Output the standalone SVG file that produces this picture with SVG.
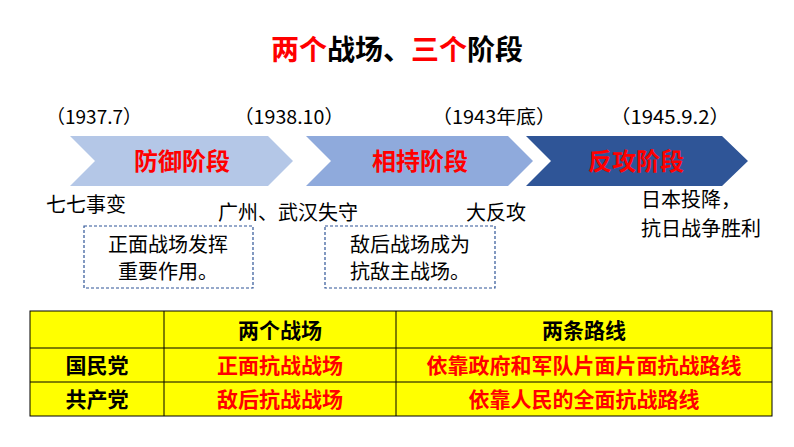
<svg xmlns="http://www.w3.org/2000/svg" width="794" height="447" viewBox="0 0 794 447">
<style>
text{font-family:"Noto Sans CJK SC","Liberation Sans",sans-serif}
.d{font-size:19px;fill:#000}
.s{font-size:24px;font-weight:bold;fill:#ff0000;text-anchor:middle}
.n{font-size:20px;fill:#000}
.box{fill:none;stroke:#2f5597;stroke-width:1.2;stroke-dasharray:3,2}
.t{font-size:21px;font-weight:bold;text-anchor:middle}
.r{fill:#ff0000}
</style>
<rect width="794" height="447" fill="#fff"/>
<text x="397" y="60" font-size="28" font-weight="bold" text-anchor="middle"><tspan fill="#ff0000">两个</tspan><tspan fill="#000">战场、</tspan><tspan fill="#ff0000">三个</tspan><tspan fill="#000">阶段</tspan></text>
<g id="dates">
<text class="d" x="46" y="124" textLength="96" lengthAdjust="spacingAndGlyphs">（1937.7）</text>
<text class="d" x="234" y="124" textLength="110" lengthAdjust="spacingAndGlyphs">（1938.10）</text>
<text class="d" x="432" y="124" textLength="124" lengthAdjust="spacingAndGlyphs">（1943年底）</text>
<text class="d" x="610" y="124" textLength="120" lengthAdjust="spacingAndGlyphs">（1945.9.2）</text>
</g>
<g id="stage1"><polygon points="70,136 268,136 293,161 268,186 70,186 95,161" fill="#b4c7e7"/><text class="s" x="182" y="170">防御阶段</text></g>
<g id="stage2"><polygon points="306,136 508,136 533,161 508,186 306,186 331,161" fill="#8faadc"/><text class="s" x="420" y="170">相持阶段</text></g>
<g id="stage3"><polygon points="526,136 722,136 748,161 722,186 526,186 551,161" fill="#2f5597"/><text class="s" x="636" y="170">反攻阶段</text></g>
<g id="events">
<text class="n" x="46" y="212">七七事变</text>
<text class="n" x="218" y="220">广州、武汉失守</text>
<text class="n" x="466" y="220">大反攻</text>
<text class="n" x="641" y="207">日本投降，</text>
<text class="n" x="641" y="236">抗日战争胜利</text>
</g>
<g id="note1"><rect class="box" x="84" y="226" width="169" height="62"/><text class="n" x="168" y="252" text-anchor="middle">正面战场发挥</text><text class="n" x="168" y="279" text-anchor="middle">重要作用。</text></g>
<g id="note2"><rect class="box" x="325" y="226" width="170" height="62"/><text class="n" x="410" y="252" text-anchor="middle">敌后战场成为</text><text class="n" x="410" y="279" text-anchor="middle">抗敌主战场。</text></g>
<g id="table">
<rect x="30" y="311" width="742" height="105" fill="#ffff00" stroke="#000" stroke-width="1"/>
<line x1="30" y1="348" x2="772" y2="348" stroke="#000"/>
<line x1="30" y1="382" x2="772" y2="382" stroke="#000"/>
<line x1="164" y1="311" x2="164" y2="416" stroke="#000"/>
<line x1="396" y1="311" x2="396" y2="416" stroke="#000"/>
<text class="t" x="280" y="338" font-size="23">两个战场</text>
<text class="t" x="584" y="338" font-size="23">两条路线</text>
<text class="t" x="97" y="373">国民党</text>
<text class="t r" x="280" y="373">正面抗战战场</text>
<text class="t r" x="584" y="373">依靠政府和军队片面片面抗战路线</text>
<text class="t" x="97" y="407">共产党</text>
<text class="t r" x="280" y="407">敌后抗战战场</text>
<text class="t r" x="584" y="407">依靠人民的全面抗战路线</text>
</g>
</svg>
